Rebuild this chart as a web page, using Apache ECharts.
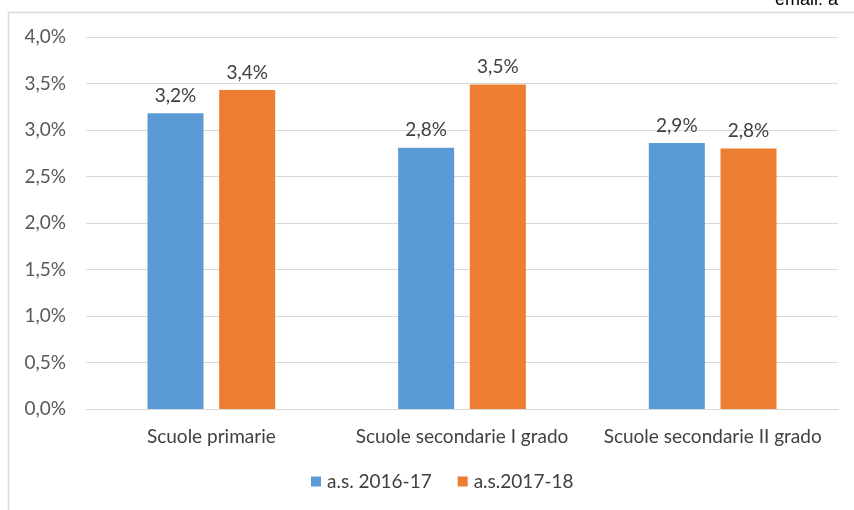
<!DOCTYPE html>
<html lang="it">
<head>
    <meta charset="UTF-8">
    <title>Scuole</title>
    <script type="text/javascript" src="https://cdn.jsdelivr.net/npm/echarts@6/dist/echarts.min.js"></script>
</head>
<body style="margin:0;background:#fff">
<div id="main" style="width: 854px;height: 510px"></div>
</body>
<script>
    var categorie = ["Scuole primarie", "Scuole secondarie I grado", "Scuole secondarie II grado"]
    var as2016 = [3.18, 2.81, 2.86]
    var as2017 = [3.43, 3.49, 2.80]
    var yTicks = [0, 0.5, 1, 1.5, 2, 2.5, 3, 3.5, 4]

    var font = "Lato, 'Open Sans', sans-serif"
    function pct(v) { return v.toFixed(1).replace(".", ",") + "%" }

    var myChart = echarts.init(document.getElementById("main"))
    myChart.setOption({
        animation: false,
        textStyle: { fontFamily: font },
        graphic: [
            { type: "rect", shape: { x: 8.5, y: 12.5, width: 900, height: 600 },
              style: { fill: null, stroke: "#d9d9d9", lineWidth: 1.5 } },
            { type: "text", left: 775, top: -9,
              style: { text: "email: a", fontSize: 18, fill: "#000", fontFamily: "Arial, sans-serif" } }
        ],
        grid: { left: 86, right: 16, top: 37, bottom: 101 },
        legend: {
            bottom: 14, left: 306,
            itemWidth: 10, itemHeight: 10, itemGap: 26,
            icon: "rect",
            textStyle: { fontSize: 19, color: "#404040", fontFamily: font, padding: [0, 0, 0, 1] },
            data: ["a.s. 2016-17", "a.s.2017-18"]
        },
        xAxis: {
            type: "category",
            data: categorie,
            axisLine: { lineStyle: { color: "#d9d9d9" } },
            axisTick: { show: false },
            axisLabel: { fontSize: 19, color: "#404040", margin: 18, interval: 0, hideOverlap: false }
        },
        yAxis: {
            type: "value",
            min: yTicks[0], max: yTicks[yTicks.length - 1], interval: 0.5,
            axisLine: { show: false },
            axisTick: { show: false },
            splitLine: { lineStyle: { color: "#d9d9d9" } },
            axisLabel: { fontSize: 19, color: "#595959", margin: 20, formatter: pct }
        },
        series: [{
            name: "a.s. 2016-17",
            type: "bar",
            data: as2016,
            barWidth: 56,
            barGap: "28%",
            itemStyle: { color: "#5b9bd5" },
            label: { show: true, position: "top", distance: 8, fontSize: 19, color: "#404040", formatter: function (p) { return pct(p.value) } }
        }, {
            name: "a.s.2017-18",
            type: "bar",
            data: as2017,
            barWidth: 56,
            itemStyle: { color: "#ed7d31" },
            label: { show: true, position: "top", distance: 8, fontSize: 19, color: "#404040", formatter: function (p) { return pct(p.value) } }
        }]
    });
</script>
</html>
